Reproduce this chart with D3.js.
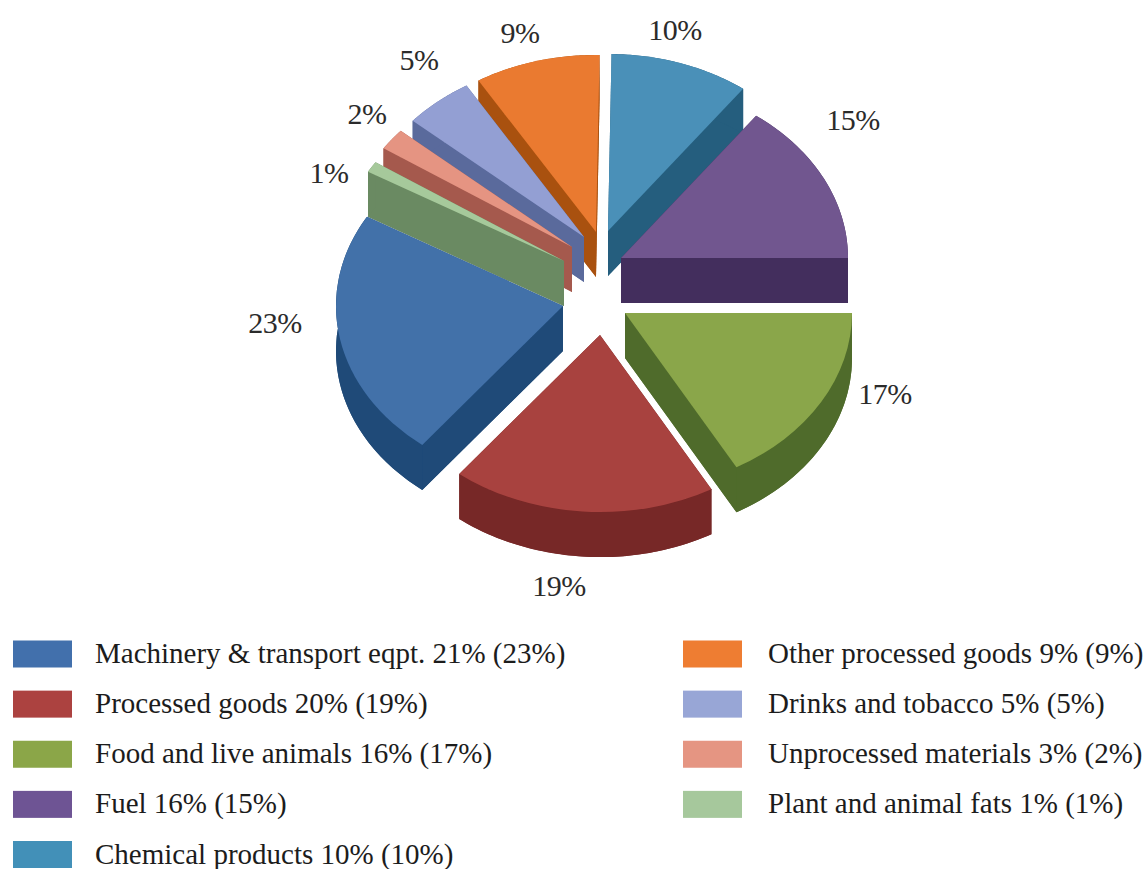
<!DOCTYPE html>
<html>
<head>
<meta charset="utf-8">
<script src="https://cdn.jsdelivr.net/npm/d3@7/dist/d3.min.js"></script>
<style>
  html, body { margin: 0; padding: 0; background: #fff; }
  svg { display: block; }
  text { font-family: "Liberation Serif", "Times New Roman", serif; }
</style>
</head>
<body>
<svg id="chart" width="1146" height="869"></svg>
<script>
// Import shares by product group; the bracketed figure is the one drawn as the pie.
const categories = [
  "Machinery & transport eqpt.", "Processed goods", "Food and live animals", "Fuel",
  "Chemical products", "Other processed goods", "Drinks and tobacco",
  "Unprocessed materials", "Plant and animal fats"
];
const pieShare = [23, 19, 17, 15, 10, 9, 5, 2, 1];
const legendShare = [21, 20, 16, 16, 10, 9, 5, 3, 1];
const topColors = ["#4271a9", "#a8423f", "#8aa64a", "#71568f", "#4a90b8", "#ea7a30", "#939fd3", "#e59482", "#a6c99b"];
const wallColors = ["#1f4a78", "#772827", "#4f6b2b", "#432e5d", "#255e7e", "#a9510f", "#5a6a9c", "#a5594d", "#6a8a62"];
const swatchColors = ["#4270ac", "#ac4240", "#8ba648", "#6e5494", "#4290b8", "#ee7d32", "#98a6d6", "#e59582", "#a6c89c"];

// Layout of the exploded pie: where each slice's tip sits, and where its label goes.
const tipX = [563, 600, 625, 621, 608, 596, 584, 572, 564];
const tipY = [306, 335, 313, 258, 231, 232, 237, 247, 261];
const labelX = [275, 559, 885, 853, 675, 520, 419, 367, 329];
const labelY = [323, 586, 394, 120, 30, 33, 60, 114, 173];
const paintOrder = [5, 4, 6, 7, 8, 3, 0, 2, 1];

const radiusX = 227, squash = 0.78, depth = 45;
const rad = d => d * Math.PI / 180;

const svg = d3.select("#chart");

// Slices run counter-clockwise in legend order, starting from the top-left edge.
const pie = d3.pie().sort(null).startAngle(rad(300.3)).endAngle(rad(300.3 - 360));
const arcs = pie(pieShare);
const arc = d3.arc().innerRadius(0).outerRadius(radiusX);
const line = d3.line();

const pointAt = (i, angle, drop) => [
  tipX[i] + radiusX * Math.sin(angle),
  tipY[i] - radiusX * squash * Math.cos(angle) + drop
];

const slices = svg.append("g").selectAll("g").data(paintOrder).join("g");

slices.each(function (i) {
  const g = d3.select(this);
  const a = arcs[i];

  // Extruded sides: the sunken sector, the two radial walls and the outer rim.
  g.append("path")
    .attr("d", arc(a))
    .attr("transform", `translate(${tipX[i]},${tipY[i] + depth}) scale(1,${squash})`)
    .attr("fill", wallColors[i]);

  [a.startAngle, a.endAngle].forEach(angle => {
    g.append("path")
      .attr("d", line([
        [tipX[i], tipY[i]], pointAt(i, angle, 0),
        pointAt(i, angle, depth), [tipX[i], tipY[i] + depth]
      ]) + "Z")
      .attr("fill", wallColors[i]);
  });

  const sweep = d3.scaleLinear().domain([0, 60]).range([a.startAngle, a.endAngle]);
  const steps = d3.range(0, 61).map(sweep);
  const rim = steps.map(t => pointAt(i, t, 0))
    .concat(steps.slice().reverse().map(t => pointAt(i, t, depth)));
  g.append("path").attr("d", line(rim) + "Z").attr("fill", wallColors[i]);

  // Top face of the slice.
  g.append("path")
    .attr("d", arc(a))
    .attr("transform", `translate(${tipX[i]},${tipY[i]}) scale(1,${squash})`)
    .attr("fill", topColors[i]);
});

// Percentage labels around the pie.
svg.append("g").selectAll("text").data(pieShare).join("text")
  .attr("x", (d, i) => labelX[i])
  .attr("y", (d, i) => labelY[i])
  .attr("dy", "0.33em")
  .attr("text-anchor", "middle")
  .attr("font-size", 30)
  .attr("letter-spacing", "-0.5")
  .attr("fill", "#2b2b2b")
  .text(d => d + "%");

// Two-column legend: five entries on the left, four on the right.
const legendColumns = [
  { swatch: 13, text: 95 },
  { swatch: 683, text: 768 }
];
const legendRow = d3.scalePoint().domain(d3.range(5)).range([654, 854.5]);

const legend = svg.append("g").selectAll("g").data(categories).join("g")
  .attr("transform", (d, i) => `translate(0,${legendRow(i < 5 ? i : i - 5)})`);

legend.append("rect")
  .attr("x", (d, i) => legendColumns[i < 5 ? 0 : 1].swatch)
  .attr("y", -13.5)
  .attr("width", 59)
  .attr("height", 27)
  .attr("fill", (d, i) => swatchColors[i]);

legend.append("text")
  .attr("x", (d, i) => legendColumns[i < 5 ? 0 : 1].text)
  .attr("y", 9)
  .attr("font-size", 29)
  .attr("fill", "#1c1c1c")
  .text((d, i) => `${d} ${legendShare[i]}% (${pieShare[i]}%)`);
</script>
</body>
</html>
